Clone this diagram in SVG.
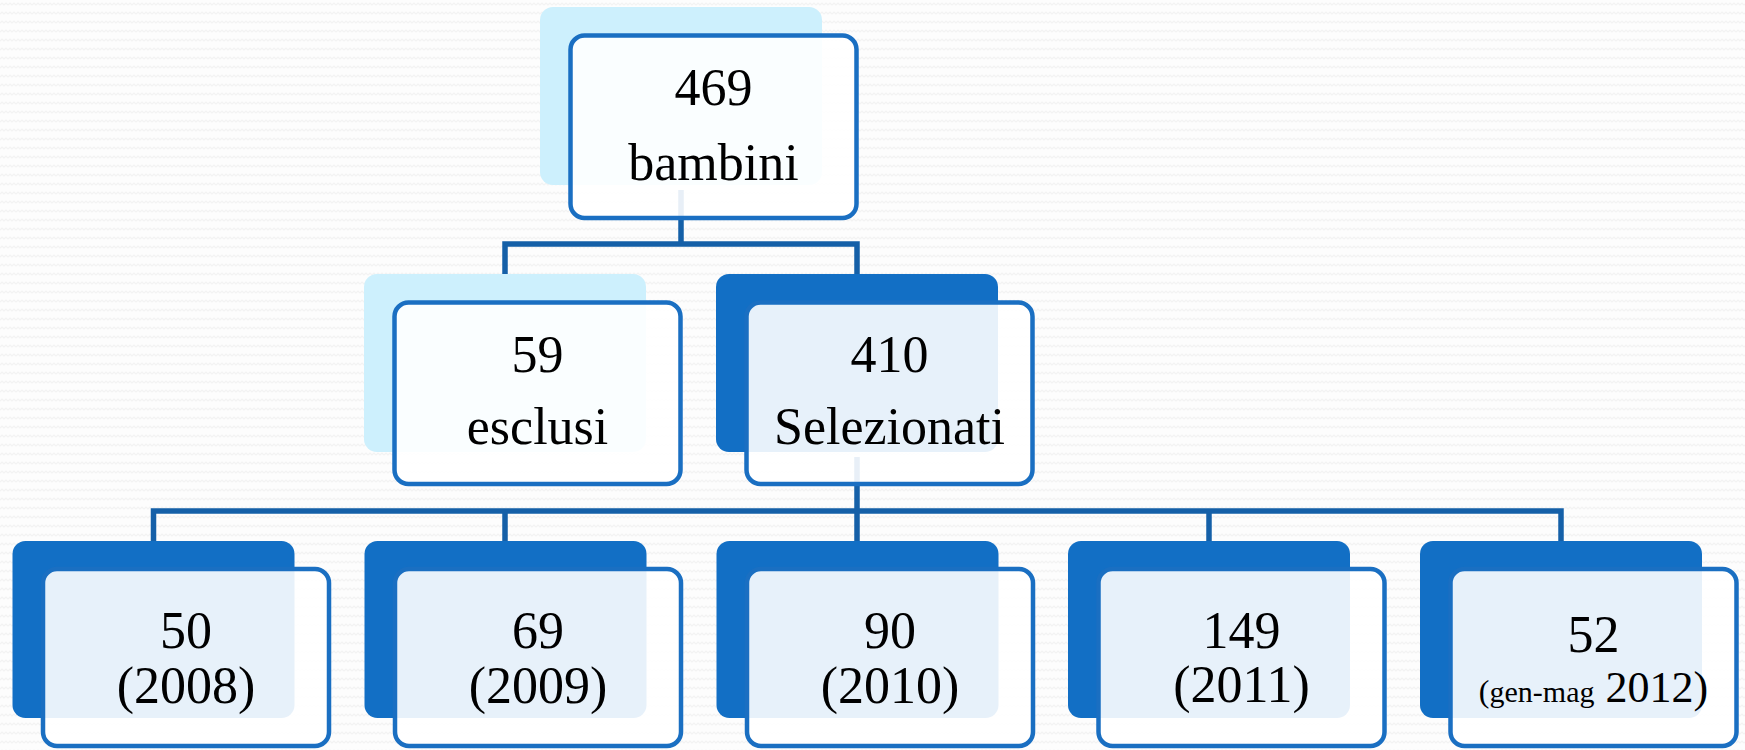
<svg xmlns="http://www.w3.org/2000/svg" width="1745" height="750" viewBox="0 0 1745 750">
<defs>
<pattern id="bgp" width="8" height="9" patternUnits="userSpaceOnUse">
<rect width="8" height="9" fill="#fdfdfd"/>
<path d="M0 5 L2 3 L4 5 L6 3 L8 5" fill="none" stroke="#f3f3f3" stroke-width="1.2"/>
</pattern>
</defs>
<style>
.bl{fill:#cdf0fd}
.bd{fill:#126fc5}
.fr{fill:#ffffff;fill-opacity:0.9;stroke:#1a6fc2;stroke-width:4.5}
.cn{fill:none;stroke:#1560a8;stroke-width:5.5}
text{font-family:"Liberation Serif","DejaVu Serif",serif;font-size:52px;fill:#000;text-anchor:middle}
</style>
<rect width="1745" height="750" fill="url(#bgp)"/>
<g id="connectors">
<path class="cn" d="M681 190 V244 M505 274 V244 H857 V274"/>
<path class="cn" d="M857 457 V511 M153.5 541 V511 H1561 V541 M505 511 V541 M857 511 V541 M1209 511 V541"/>
</g>
<g id="n469">
<rect class="bl" x="540" y="7" width="282" height="178" rx="13"/>
<rect class="fr" x="570.5" y="35.5" width="286" height="182.5" rx="14"/>
<text x="713.5" y="105">469</text>
<text x="713.5" y="180">bambini</text>
</g>
<g id="n59">
<rect class="bl" x="364" y="274" width="282" height="178" rx="13"/>
<rect class="fr" x="394.5" y="302.5" width="286" height="181.5" rx="14"/>
<text x="537.5" y="372">59</text>
<text x="537.5" y="444">esclusi</text>
</g>
<g id="n410">
<rect class="bd" x="716" y="274" width="282" height="178" rx="13"/>
<rect class="fr" x="746.5" y="302.5" width="286" height="181.5" rx="14"/>
<text x="889.5" y="372">410</text>
<text x="889.5" y="444">Selezionati</text>
</g>
<g id="n2008">
<rect class="bd" x="12.5" y="541" width="282" height="177" rx="13"/>
<rect class="fr" x="43" y="569" width="286" height="177" rx="14"/>
<text x="186" y="648">50</text>
<text x="186" y="703">(2008)</text>
</g>
<g id="n2009">
<rect class="bd" x="364.5" y="541" width="282" height="177" rx="13"/>
<rect class="fr" x="395" y="569" width="286" height="177" rx="14"/>
<text x="538" y="648">69</text>
<text x="538" y="703">(2009)</text>
</g>
<g id="n2010">
<rect class="bd" x="716.5" y="541" width="282" height="177" rx="13"/>
<rect class="fr" x="747" y="569" width="286" height="177" rx="14"/>
<text x="890" y="648">90</text>
<text x="890" y="703">(2010)</text>
</g>
<g id="n2011">
<rect class="bd" x="1068" y="541" width="282" height="177" rx="13"/>
<rect class="fr" x="1098.5" y="569" width="286" height="177" rx="14"/>
<text x="1241.5" y="648">149</text>
<text x="1241.5" y="702">(2011)</text>
</g>
<g id="n2012">
<rect class="bd" x="1420" y="541" width="282" height="177" rx="13"/>
<rect class="fr" x="1450.5" y="569" width="286" height="177" rx="14"/>
<text x="1593.5" y="652">52</text>
<text x="1593.5" y="702"><tspan font-size="32px">(</tspan><tspan font-size="30px">gen-mag</tspan><tspan font-size="44px"> 2012)</tspan></text>
</g>
</svg>
